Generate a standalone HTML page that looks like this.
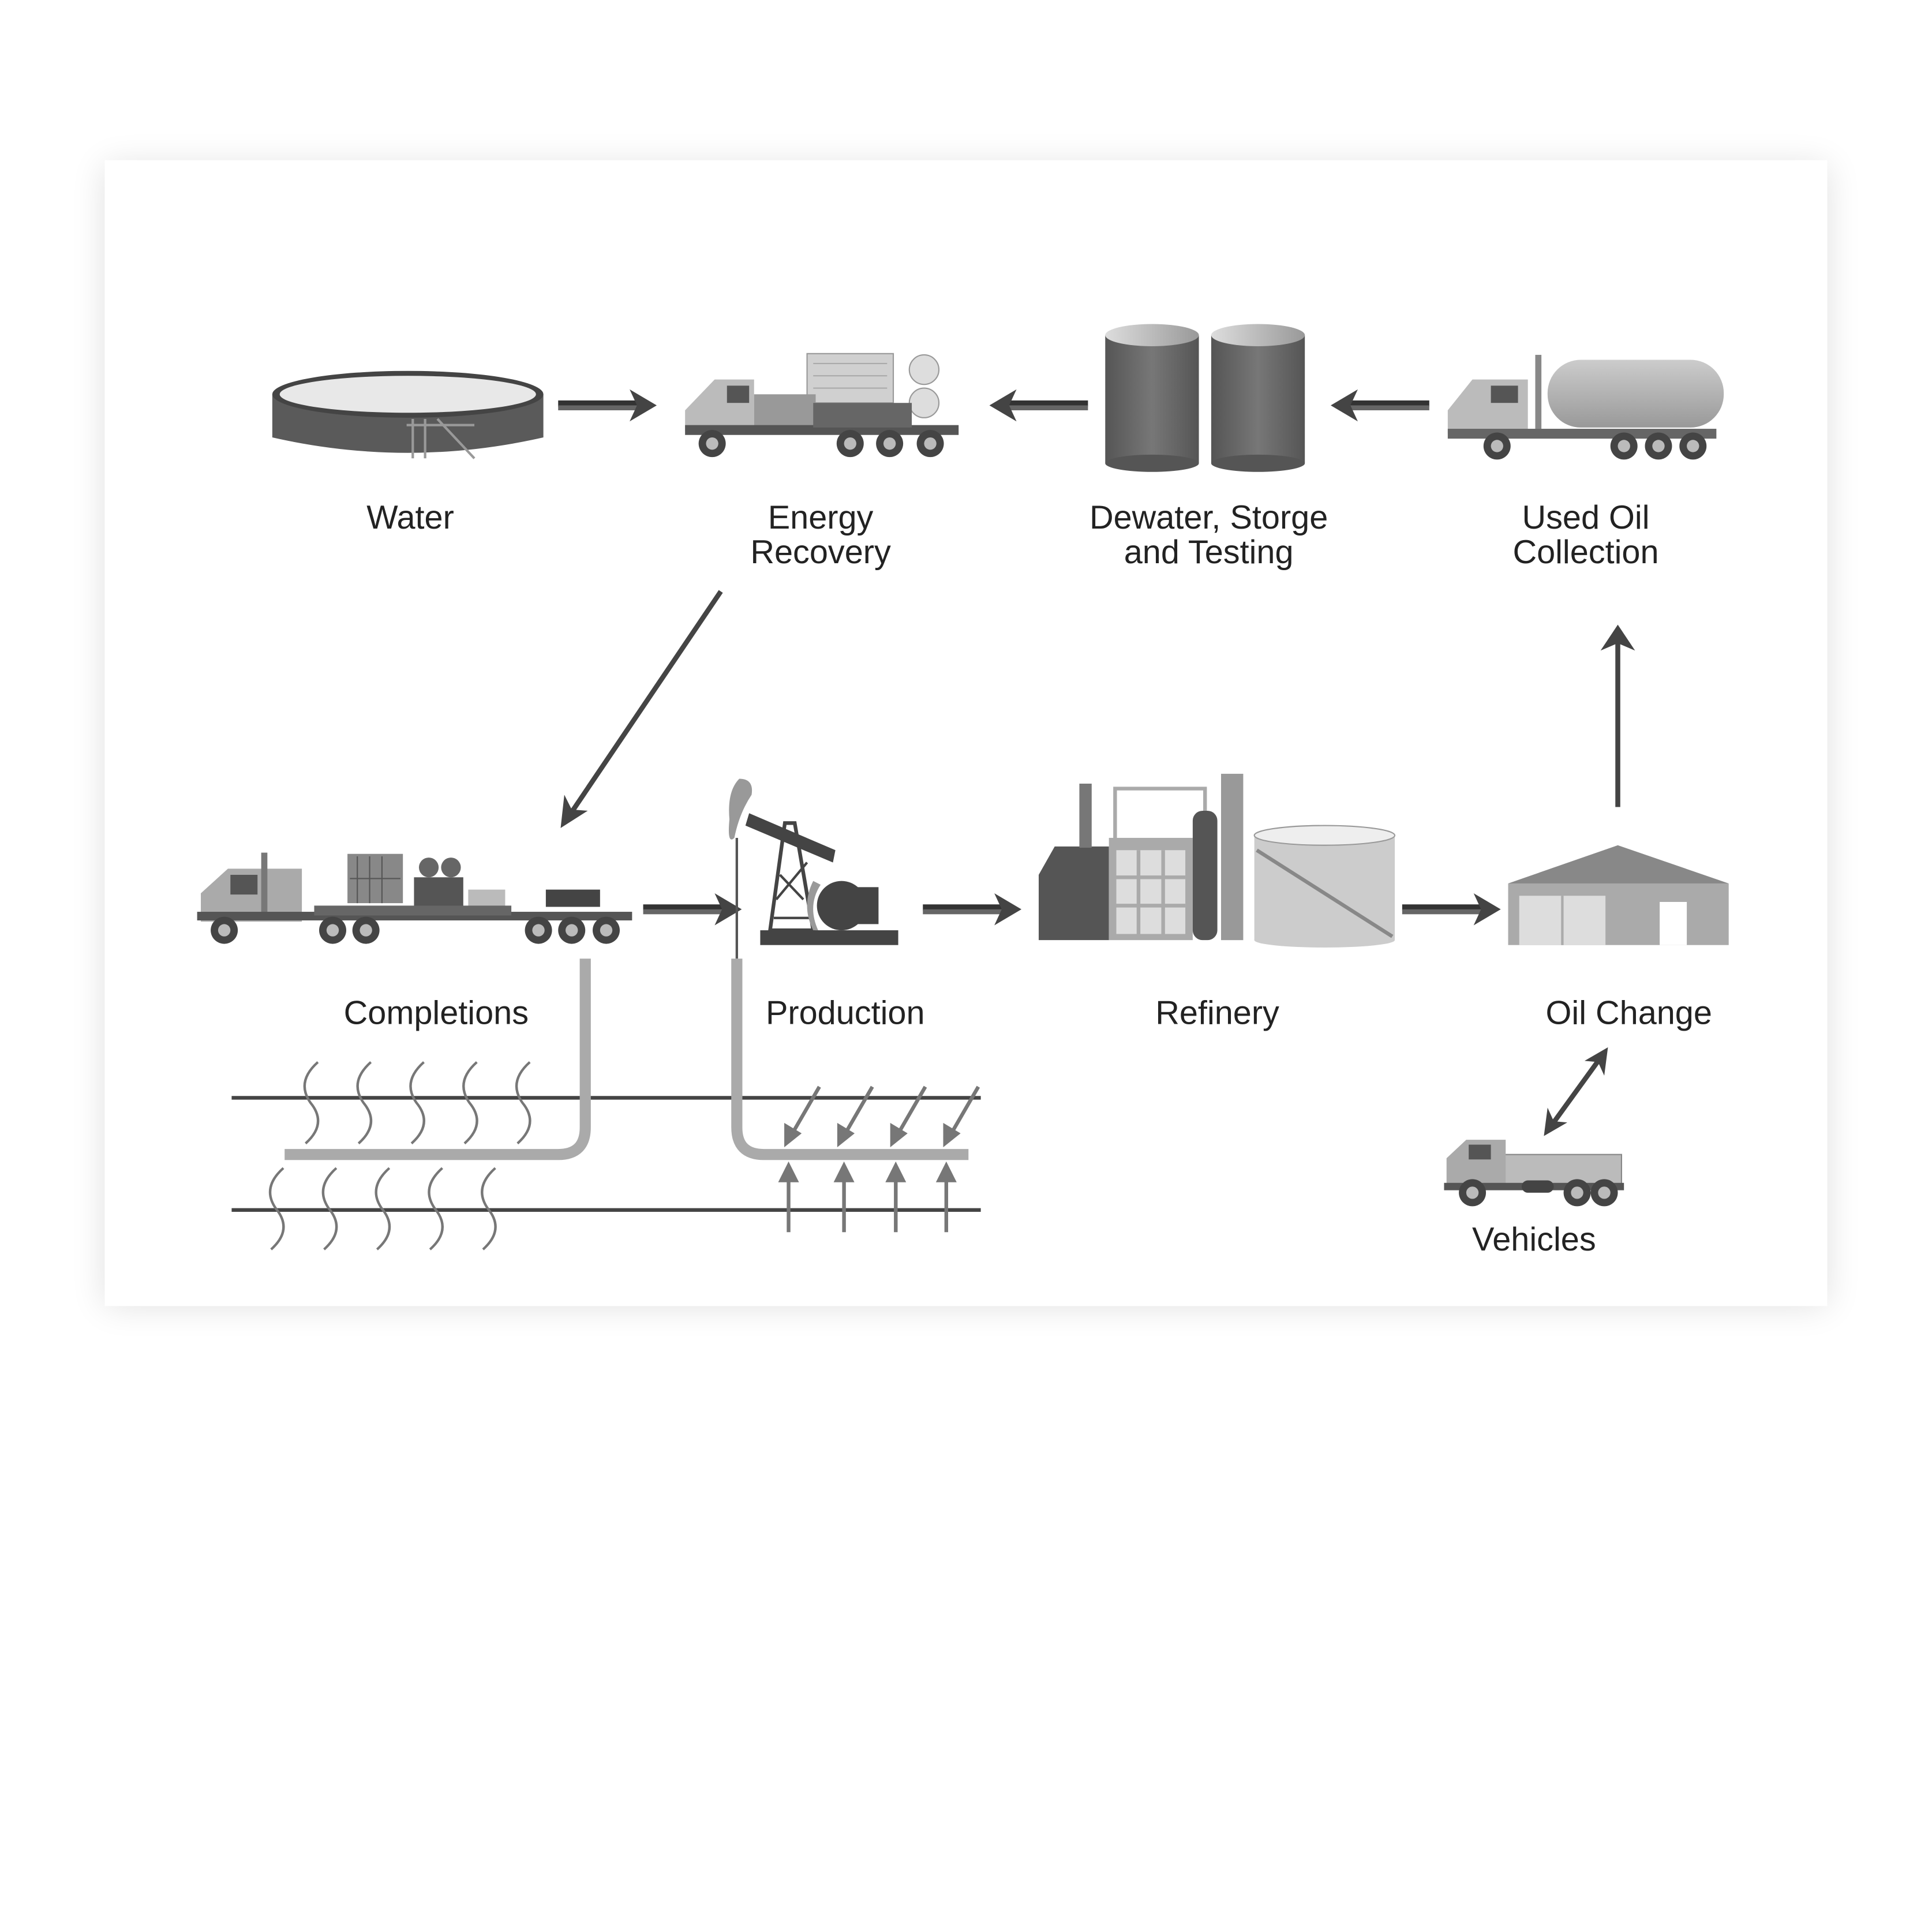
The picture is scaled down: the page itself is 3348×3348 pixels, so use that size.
<!DOCTYPE html>
<html><head><meta charset="utf-8"><style>
html,body{margin:0;padding:0;background:#fff;width:3348px;height:3348px;overflow:hidden}
svg{display:block}
text{font-family:"Liberation Sans",sans-serif;font-size:27px;fill:#222;text-anchor:middle}
</style></head><body>
<svg width="3348" height="3348" viewBox="0 0 1568 1568" xmlns="http://www.w3.org/2000/svg">
<defs>
<filter id="sh" x="-10%" y="-10%" width="120%" height="120%"><feGaussianBlur stdDeviation="14"/></filter>
<linearGradient id="tk" x1="0" x2="1"><stop offset="0" stop-color="#555"/><stop offset="0.5" stop-color="#777"/><stop offset="1" stop-color="#555"/></linearGradient>
<linearGradient id="tt" x1="0" x2="1"><stop offset="0" stop-color="#ddd"/><stop offset="1" stop-color="#999"/></linearGradient>
<linearGradient id="tanker" x1="0" y1="0" x2="0" y2="1"><stop offset="0" stop-color="#ccc"/><stop offset="1" stop-color="#999"/></linearGradient>
<g id="arr"><rect x="0" y="-4" width="70" height="5" fill="#333"/><rect x="0" y="0" width="70" height="4" fill="#666"/><path d="M58,-13 L80,0 L58,13 L64,0 Z" fill="#444"/></g>
<g id="wheel"><circle r="11" fill="#444"/><circle r="5" fill="#bbb"/></g>
</defs>
<rect x="85" y="134" width="1398" height="926" fill="#000" opacity="0.12" filter="url(#sh)"/>
<rect x="85" y="130" width="1398" height="930" fill="#fff"/>

<!-- Water tank -->
<path d="M221,320 L221,355 Q331,380 441,355 L441,320 Z" fill="#5a5a5a"/>
<ellipse cx="331" cy="320" rx="110" ry="19" fill="#444"/>
<ellipse cx="331" cy="320" rx="104" ry="15" fill="#e8e8e8"/>
<g stroke="#999" stroke-width="2" fill="none"><path d="M330,345 L385,345 M335,340 L335,372 M345,340 L345,372 M355,340 L385,372"/></g>

<use href="#arr" x="453" y="329"/>

<!-- Energy recovery truck -->
<rect x="655" y="287" width="70" height="40" fill="#d0d0d0" stroke="#999"/>
<g stroke="#aaa"><line x1="660" y1="295" x2="720" y2="295"/><line x1="660" y1="305" x2="720" y2="305"/><line x1="660" y1="315" x2="720" y2="315"/></g>
<circle cx="750" cy="300" r="12" fill="#ddd" stroke="#999"/><circle cx="750" cy="327" r="12" fill="#ddd" stroke="#999"/>
<path d="M556,333 L580,308 L612,308 L612,350 L556,350 Z" fill="#bbb"/>
<rect x="590" y="313" width="18" height="14" fill="#555"/>
<rect x="612" y="320" width="50" height="28" fill="#999"/>
<rect x="556" y="345" width="222" height="8" fill="#555"/>
<rect x="660" y="327" width="80" height="20" fill="#666"/>
<use href="#wheel" x="578" y="360"/><use href="#wheel" x="690" y="360"/><use href="#wheel" x="722" y="360"/><use href="#wheel" x="755" y="360"/>

<use href="#arr" transform="translate(883,329) scale(-1,1)"/>

<!-- Two tanks -->
<g><rect x="897" y="272" width="76" height="104" fill="url(#tk)"/><ellipse cx="935" cy="376" rx="38" ry="7" fill="#555"/><ellipse cx="935" cy="272" rx="38" ry="9" fill="url(#tt)"/></g>
<g><rect x="983" y="272" width="76" height="104" fill="url(#tk)"/><ellipse cx="1021" cy="376" rx="38" ry="7" fill="#555"/><ellipse cx="1021" cy="272" rx="38" ry="9" fill="url(#tt)"/></g>

<use href="#arr" transform="translate(1160,329) scale(-1,1)"/>

<!-- Tanker -->
<rect x="1256" y="292" width="143" height="55" rx="27" fill="url(#tanker)"/>
<path d="M1175,333 L1195,308 L1240,308 L1240,352 L1175,352 Z" fill="#bbb"/>
<rect x="1210" y="313" width="22" height="14" fill="#555"/>
<rect x="1246" y="288" width="5" height="60" fill="#888"/>
<rect x="1175" y="348" width="218" height="8" fill="#666"/>
<use href="#wheel" x="1215" y="362"/><use href="#wheel" x="1318" y="362"/><use href="#wheel" x="1346" y="362"/><use href="#wheel" x="1374" y="362"/>

<text x="333" y="429">Water</text>
<text x="666" y="429">Energy</text><text x="666" y="457">Recovery</text>
<text x="981" y="429">Dewater, Storge</text><text x="981" y="457">and Testing</text>
<text x="1287" y="429">Used Oil</text><text x="1287" y="457">Collection</text>

<!-- diagonal arrow -->
<line x1="585" y1="480" x2="462" y2="662" stroke="#444" stroke-width="4"/>
<path d="M455,672 L458,645 L464,657 L477,658 Z" fill="#444"/>

<!-- Completions truck -->
<rect x="282" y="693" width="45" height="40" fill="#888"/>
<g stroke="#555"><line x1="290" y1="695" x2="290" y2="733"/><line x1="300" y1="695" x2="300" y2="733"/><line x1="310" y1="695" x2="310" y2="733"/><line x1="284" y1="713" x2="325" y2="713"/></g>
<circle cx="348" cy="704" r="8" fill="#666"/><circle cx="366" cy="704" r="8" fill="#666"/>
<rect x="336" y="712" width="40" height="30" fill="#555"/>
<rect x="380" y="722" width="30" height="20" fill="#bbb"/>
<rect x="443" y="722" width="44" height="14" fill="#444"/>
<path d="M163,725 L185,705 L245,705 L245,748 L163,748 Z" fill="#aaa"/>
<rect x="187" y="710" width="22" height="16" fill="#555"/>
<rect x="212" y="692" width="5" height="50" fill="#777"/>
<rect x="160" y="740" width="353" height="7" fill="#555"/>
<rect x="255" y="735" width="160" height="8" fill="#666"/>
<use href="#wheel" x="182" y="755"/><use href="#wheel" x="270" y="755"/><use href="#wheel" x="297" y="755"/><use href="#wheel" x="437" y="755"/><use href="#wheel" x="464" y="755"/><use href="#wheel" x="492" y="755"/>

<use href="#arr" x="522" y="738"/>

<!-- Pump jack -->
<line x1="598" y1="680" x2="598" y2="778" stroke="#555" stroke-width="2"/>
<path d="M600,632 Q612,632 610,645 Q600,660 596,680 Q590,686 592,665 Q590,642 600,632 Z" fill="#999"/>
<path d="M608,660 L678,690 L676,700 L605,670 Z" fill="#444"/>
<path d="M625,755 L637,668 L645,668 L660,755 Z" fill="none" stroke="#444" stroke-width="3"/>
<path d="M630,730 L655,700 M633,710 L652,730 M628,745 L658,745" stroke="#444" stroke-width="2"/>
<circle cx="683" cy="735" r="20" fill="#444"/><rect x="685" y="720" width="28" height="30" fill="#444"/>
<path d="M660,715 Q650,735 660,755 L664,755 Q655,735 666,718 Z" fill="#999"/>
<rect x="617" y="755" width="112" height="12" fill="#444"/>

<use href="#arr" x="749" y="738"/>

<!-- Refinery -->
<path d="M843,710 L856,687 L900,687 L900,763 L843,763 Z" fill="#555"/>
<rect x="876" y="636" width="10" height="52" fill="#777"/>
<rect x="900" y="680" width="68" height="83" fill="#aaa"/>
<rect x="906" y="690" width="56" height="68" fill="#ddd"/>
<g stroke="#aaa" stroke-width="3"><line x1="924" y1="690" x2="924" y2="758"/><line x1="944" y1="690" x2="944" y2="758"/><line x1="906" y1="712" x2="962" y2="712"/><line x1="906" y1="735" x2="962" y2="735"/></g>
<path d="M905,680 L905,640 L978,640 L978,660" stroke="#aaa" stroke-width="3" fill="none"/>
<rect x="968" y="658" width="20" height="105" rx="8" fill="#555"/>
<rect x="991" y="628" width="18" height="135" fill="#999"/>
<rect x="1018" y="678" width="114" height="85" fill="#ccc"/>
<ellipse cx="1075" cy="763" rx="57" ry="6" fill="#ccc"/>
<ellipse cx="1075" cy="678" rx="57" ry="8" fill="#eee" stroke="#999"/>
<line x1="1020" y1="690" x2="1130" y2="760" stroke="#888" stroke-width="3"/>

<use href="#arr" x="1138" y="738"/>

<!-- Warehouse -->
<path d="M1224,717 L1313,686 L1403,717 Z" fill="#888"/>
<rect x="1224" y="717" width="179" height="50" fill="#aaa"/>
<rect x="1233" y="727" width="70" height="40" fill="#ddd"/>
<line x1="1268" y1="727" x2="1268" y2="767" stroke="#aaa" stroke-width="2"/>
<rect x="1347" y="732" width="22" height="35" fill="#fff"/>

<!-- up arrow -->
<line x1="1313" y1="655" x2="1313" y2="520" stroke="#444" stroke-width="4"/>
<path d="M1313,507 L1327,528 L1313,522 L1299,528 Z" fill="#444"/>

<text x="354" y="831">Completions</text>
<text x="686" y="831">Production</text>
<text x="988" y="831">Refinery</text>
<text x="1322" y="831">Oil Change</text>

<!-- double arrow -->
<line x1="1258" y1="915" x2="1300" y2="857" stroke="#444" stroke-width="4"/>
<path d="M1305,850 L1302,873 L1297,862 L1286,861 Z" fill="#444"/>
<path d="M1253,922 L1256,899 L1261,910 L1272,911 Z" fill="#444"/>

<!-- Vehicles truck -->
<rect x="1220" y="937" width="96" height="24" fill="#bbb" stroke="#888"/>
<path d="M1174,940 L1190,925 L1222,925 L1222,962 L1174,962 Z" fill="#aaa"/>
<rect x="1192" y="929" width="18" height="12" fill="#555"/>
<rect x="1172" y="960" width="146" height="6" fill="#555"/>
<rect x="1235" y="958" width="26" height="10" rx="5" fill="#444"/>
<use href="#wheel" x="1195" y="968"/><use href="#wheel" x="1280" y="968"/><use href="#wheel" x="1302" y="968"/>
<text x="1245" y="1015">Vehicles</text>

<!-- underground -->
<line x1="188" y1="891" x2="796" y2="891" stroke="#444" stroke-width="3"/>
<line x1="188" y1="982" x2="796" y2="982" stroke="#444" stroke-width="3"/>
<path d="M475,778 L475,915 Q475,937 453,937 L231,937" stroke="#aaa" stroke-width="9" fill="none"/>
<path d="M598,778 L598,915 Q598,937 620,937 L786,937" stroke="#aaa" stroke-width="9" fill="none"/>
<g stroke="#777" stroke-width="2" fill="none">
<path id="sq" d="M258,862 Q240,878 252,895 Q266,912 248,928"/>
<use href="#sq" x="43"/><use href="#sq" x="86"/><use href="#sq" x="129"/><use href="#sq" x="172"/>
<use href="#sq" x="-28" y="86"/><use href="#sq" x="15" y="86"/><use href="#sq" x="58" y="86"/><use href="#sq" x="101" y="86"/><use href="#sq" x="144" y="86"/>
</g>
<g stroke="#777" stroke-width="3" fill="#777">
<g id="da"><line x1="665" y1="882" x2="643" y2="920"/><path d="M638,928 L638,914 L648,920 Z"/></g>
<use href="#da" x="43"/><use href="#da" x="86"/><use href="#da" x="129"/>
<g id="ua"><line x1="640" y1="1000" x2="640" y2="955"/><path d="M640,946 L634,958 L646,958 Z"/></g>
<use href="#ua" x="45"/><use href="#ua" x="87"/><use href="#ua" x="128"/>
</g>
</svg>
</body></html>
